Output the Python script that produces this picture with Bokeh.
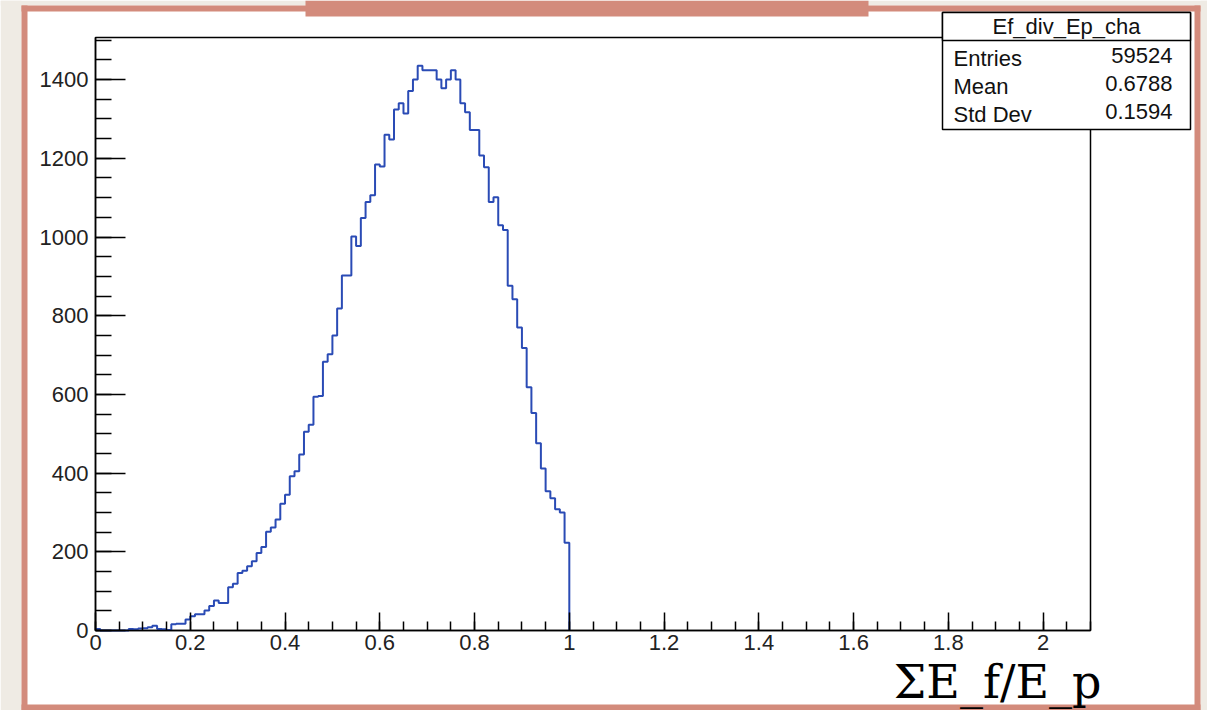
import numpy as np
from bokeh.plotting import figure
from bokeh.models import FixedTicker, BoxAnnotation, Label, Range1d
from bokeh.embed import file_html
from bokeh.resources import INLINE

# Ef_div_Ep_cha: 100 bins of width 0.01 on [0, 1], nothing above 1
bin_width = 0.01
counts = [
    4, 0, 0, 0, 0, 0, 0, 4, 3, 5,
    6, 8, 12, 4, 3, 1, 16, 17, 17, 28,
    36, 41, 41, 51, 62, 76, 70, 70, 110, 119,
    146, 152, 163, 176, 197, 212, 251, 262, 282, 322,
    345, 392, 405, 447, 505, 523, 594, 596, 683, 702,
    750, 818, 902, 902, 1001, 977, 1048, 1089, 1106, 1184,
    1179, 1260, 1248, 1324, 1340, 1314, 1371, 1400, 1435, 1424,
    1424, 1424, 1400, 1378, 1400, 1424, 1400, 1340, 1317, 1272,
    1272, 1207, 1177, 1089, 1101, 1030, 1018, 876, 842, 770,
    718, 618, 553, 476, 412, 354, 336, 308, 300, 223,
]

hist_name = "Ef_div_Ep_cha"
stat_names = ["Entries", "Mean", "Std Dev"]
stat_values = ["59524", "0.6788", "0.1594"]

x_ticks = [0, 0.2, 0.4, 0.6, 0.8, 1, 1.2, 1.4, 1.6, 1.8, 2]
x_tick_labels = ["0", "0.2", "0.4", "0.6", "0.8", "1", "1.2", "1.4", "1.6", "1.8", "2"]
y_ticks = [0, 200, 400, 600, 800, 1000, 1200, 1400]
y_tick_labels = ["0", "200", "400", "600", "800", "1000", "1200", "1400"]
x_title = "ΣE_f/E_p"

# axis extents of the histogram pad
X_MIN, X_MAX = 0.0, 2.1
Y_MIN, Y_MAX = 0.0, 1507.0

# canvas size and where the pad frame sits on it (pixels from top-left)
W, H = 1207, 710
PAD_L, PAD_R, PAD_T, PAD_B = 95, 1090, 37, 630

PAPER = "#efebe4"
SALMON = "#d38b7c"
LINE_BLUE = "#2a4bb5"
SANS = "Liberation Sans"

# the plotting frame covers the whole canvas; ranges are extended so that
# the histogram pad lands on the pixel box above
sx = (PAD_R - PAD_L) / (X_MAX - X_MIN)
sy = (PAD_B - PAD_T) / (Y_MAX - Y_MIN)
x_range = Range1d(X_MIN - PAD_L / sx, X_MAX + (W - PAD_R) / sx)
y_range = Range1d(Y_MIN - (H - PAD_B) / sy, Y_MAX + PAD_T / sy)

p = figure(
    width=W, height=H, output_backend="svg", toolbar_location=None,
    x_range=x_range, y_range=y_range,
    min_border_left=0, min_border_right=0, min_border_top=0, min_border_bottom=0,
)
p.border_fill_color = "white"
p.background_fill_color = "white"
p.outline_line_color = None
p.xgrid.visible = False
p.ygrid.visible = False


def cbox(left, right, top, bottom, fill, line=None, lw=0, level="underlay"):
    return BoxAnnotation(
        left=left, right=right, top=top, bottom=bottom,
        left_units="canvas", right_units="canvas", top_units="canvas", bottom_units="canvas",
        fill_color=fill, fill_alpha=1.0 if fill else 0.0,
        line_color=line, line_alpha=1.0 if line else 0.0, line_width=lw,
        level=level,
    )


# paper margin and salmon frame around the canvas
for l, r, t, b in [(0, 21, 0, H), (0, W, 0, 5), (1200, W, 0, H)]:
    p.add_layout(cbox(l, r, t, b, PAPER))
for l, r, t, b in [(21, 27, 5, H), (21, 1200, 5, 11), (1194, 1200, 5, H), (21, 1200, 704, H)]:
    p.add_layout(cbox(l, r, t, b, SALMON))
# title banner
p.add_layout(cbox(305, 868, 0, 16, SALMON))

# pad frame
p.add_layout(BoxAnnotation(left=X_MIN, right=X_MAX, bottom=Y_MIN, top=Y_MAX,
                           fill_alpha=0.0, line_color="black", line_alpha=1.0,
                           line_width=1.5, level="underlay"))

# histogram outline
edges = np.arange(len(counts) + 1) * bin_width
p.step(edges, counts + [0], mode="after", line_color=LINE_BLUE, line_width=2)

# axes pinned to the pad's origin
p.xaxis.fixed_location = Y_MIN
p.yaxis.fixed_location = X_MIN
p.xaxis.bounds = (X_MIN, X_MAX)
p.yaxis.bounds = (Y_MIN, Y_MAX)
p.xaxis.ticker = FixedTicker(ticks=x_ticks, minor_ticks=list(np.round(np.arange(0, 2.101, 0.05), 2)))
p.xaxis.major_label_overrides = dict(zip(x_ticks, x_tick_labels))
p.yaxis.ticker = FixedTicker(ticks=y_ticks, minor_ticks=list(range(0, 1501, 50)))
p.yaxis.major_label_overrides = dict(zip(y_ticks, y_tick_labels))

for ax in (p.xaxis[0], p.yaxis[0]):
    ax.axis_line_color = "black"
    ax.axis_line_width = 1.5
    ax.major_tick_line_color = "black"
    ax.minor_tick_line_color = "black"
    ax.major_tick_line_width = 1.5
    ax.minor_tick_line_width = 1.5
    ax.major_tick_out = 0
    ax.minor_tick_out = 0
    ax.major_label_text_font = SANS
    ax.major_label_text_font_size = "22px"
    ax.major_label_text_color = "#222222"

p.xaxis.major_tick_in = 18
p.xaxis.minor_tick_in = 9
p.xaxis.major_label_standoff = 4
p.yaxis.major_tick_in = 30
p.yaxis.minor_tick_in = 16
p.yaxis.major_label_standoff = 7

# statistics box
p.add_layout(cbox(942, 1190, 12, 129, "white", "black", 1.5, level="annotation"))
p.add_layout(cbox(942, 1190, 12, 40, "white", "black", 1.5, level="annotation"))
p.add_layout(Label(x=1066, y=26, x_units="canvas", y_units="canvas", text=hist_name,
                   text_font=SANS, text_font_size="22px", text_align="center",
                   text_baseline="middle", text_color="#111111"))
for k, (name, val) in enumerate(zip(stat_names, stat_values)):
    yy = 58 + 28 * k
    p.add_layout(Label(x=953, y=yy, x_units="canvas", y_units="canvas", text=name,
                       text_font=SANS, text_font_size="22px", text_align="left",
                       text_baseline="middle", text_color="#111111"))
    p.add_layout(Label(x=1172, y=yy - 3, x_units="canvas", y_units="canvas", text=val,
                       text_font=SANS, text_font_size="22px", text_align="right",
                       text_baseline="middle", text_color="#111111"))

# x-axis title
p.add_layout(Label(x=1101, y=681, x_units="canvas", y_units="canvas", text=x_title,
                   text_font="DejaVu Serif", text_font_size="46px", text_align="right",
                   text_baseline="middle", text_color="black"))

open("out.html", "w").write(file_html(p, INLINE))
